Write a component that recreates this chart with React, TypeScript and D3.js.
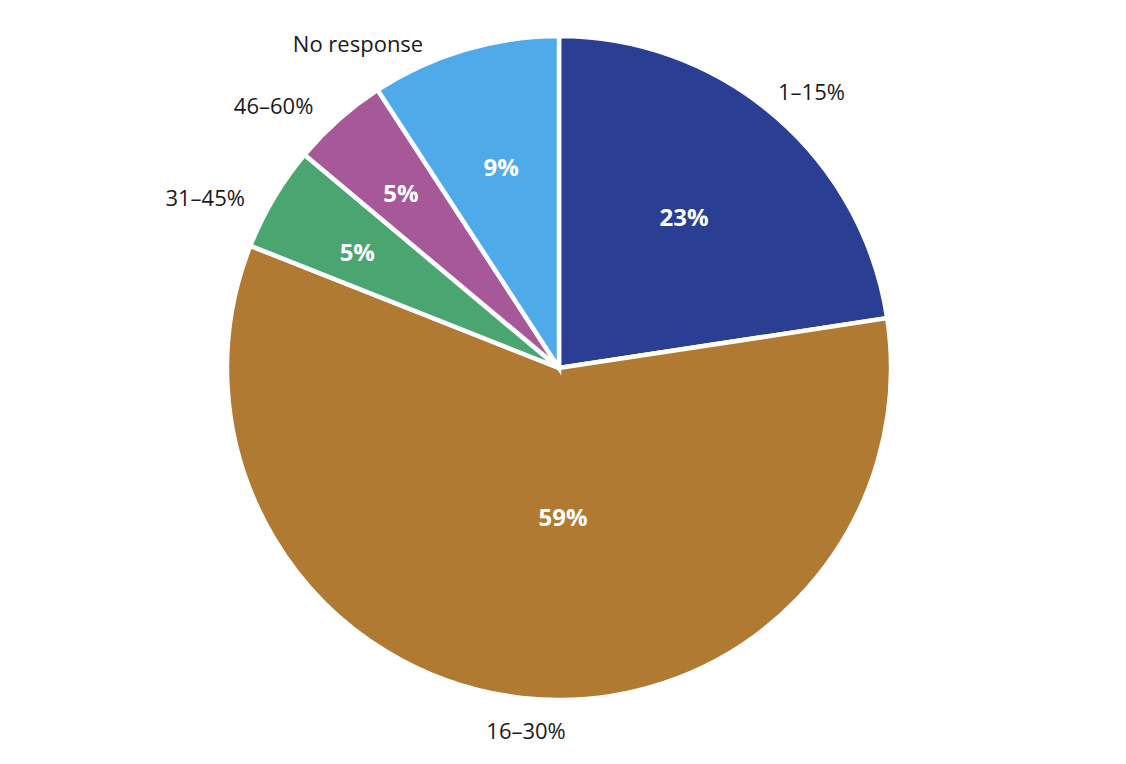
import React from "react";
import * as d3 from "d3";

const categories = ["1–15%", "16–30%", "31–45%", "46–60%", "No response"];
const values = [22.6, 58.4, 5.1, 4.7, 9.2];
const valueLabels = ["23%", "59%", "5%", "5%", "9%"];
const colors = ["#2a3f94", "#b07a33", "#4aa571", "#a75899", "#4eaae8"];

// layout tuning (label placement, not data)
const innerRadiusFactor = [0.59, 0.45, 0.7, 0.71, 0.63];
const innerAngleNudgeDeg = [-1, -8, -1, -0.5, 0.5];
const outerAngleNudgeDeg = [-2.2, -1.3, -2.4, -1.6, -6.2];
const outerRadiusGap = [-4, 9, 1, 3, -5];

const W = 1126;
const H = 764;
const CX = 559;
const CY = 368;
const R = 332;

export default function App() {
  const pie = d3
    .pie<number>()
    .sort(null)
    .value((d) => d);
  const arcs = pie(values);
  const arcGen = d3.arc<d3.PieArcDatum<number>>().innerRadius(0).outerRadius(R);

  const polar = (angle: number, radius: number) => [
    Math.sin(angle) * radius,
    -Math.cos(angle) * radius,
  ];

  return (
    <svg
      width={W}
      height={H}
      viewBox={`0 0 ${W} ${H}`}
      style={{ position: "absolute", left: 0, top: 0, background: "#fff" }}
    >
      <g transform={`translate(${CX},${CY})`}>
        {arcs.map((a, i) => (
          <path
            key={"s" + i}
            d={arcGen(a) || ""}
            fill={colors[i]}
            stroke="#fff"
            strokeWidth={4.5}
            strokeLinejoin="miter"
          />
        ))}
        {arcs.map((a, i) => {
          const mid = (a.startAngle + a.endAngle) / 2 + (innerAngleNudgeDeg[i] * Math.PI) / 180;
          const [x, y] = polar(mid, R * innerRadiusFactor[i]);
          return (
            <text
              key={"v" + i}
              x={x}
              y={y}
              dy="0.36em"
              textAnchor="middle"
              fill="#fff"
              fontFamily="'Open Sans', 'Noto Sans', sans-serif"
              fontWeight={700}
              fontSize={24}
            >
              {valueLabels[i]}
            </text>
          );
        })}
        {arcs.map((a, i) => {
          const mid = (a.startAngle + a.endAngle) / 2 + (outerAngleNudgeDeg[i] * Math.PI) / 180;
          const [x, y] = polar(mid, R + 24 + outerRadiusGap[i]);
          const s = Math.sin(mid);
          const anchor = s > 0.3 ? "start" : s < -0.3 ? "end" : "middle";
          return (
            <text
              key={"c" + i}
              x={x}
              y={y}
              dy="0.36em"
              textAnchor={anchor}
              fill="#1a1a1a"
              fontFamily="'Open Sans', 'Noto Sans', sans-serif"
              fontWeight={400}
              fontSize={22}
            >
              {categories[i]}
            </text>
          );
        })}
      </g>
    </svg>
  );
}
